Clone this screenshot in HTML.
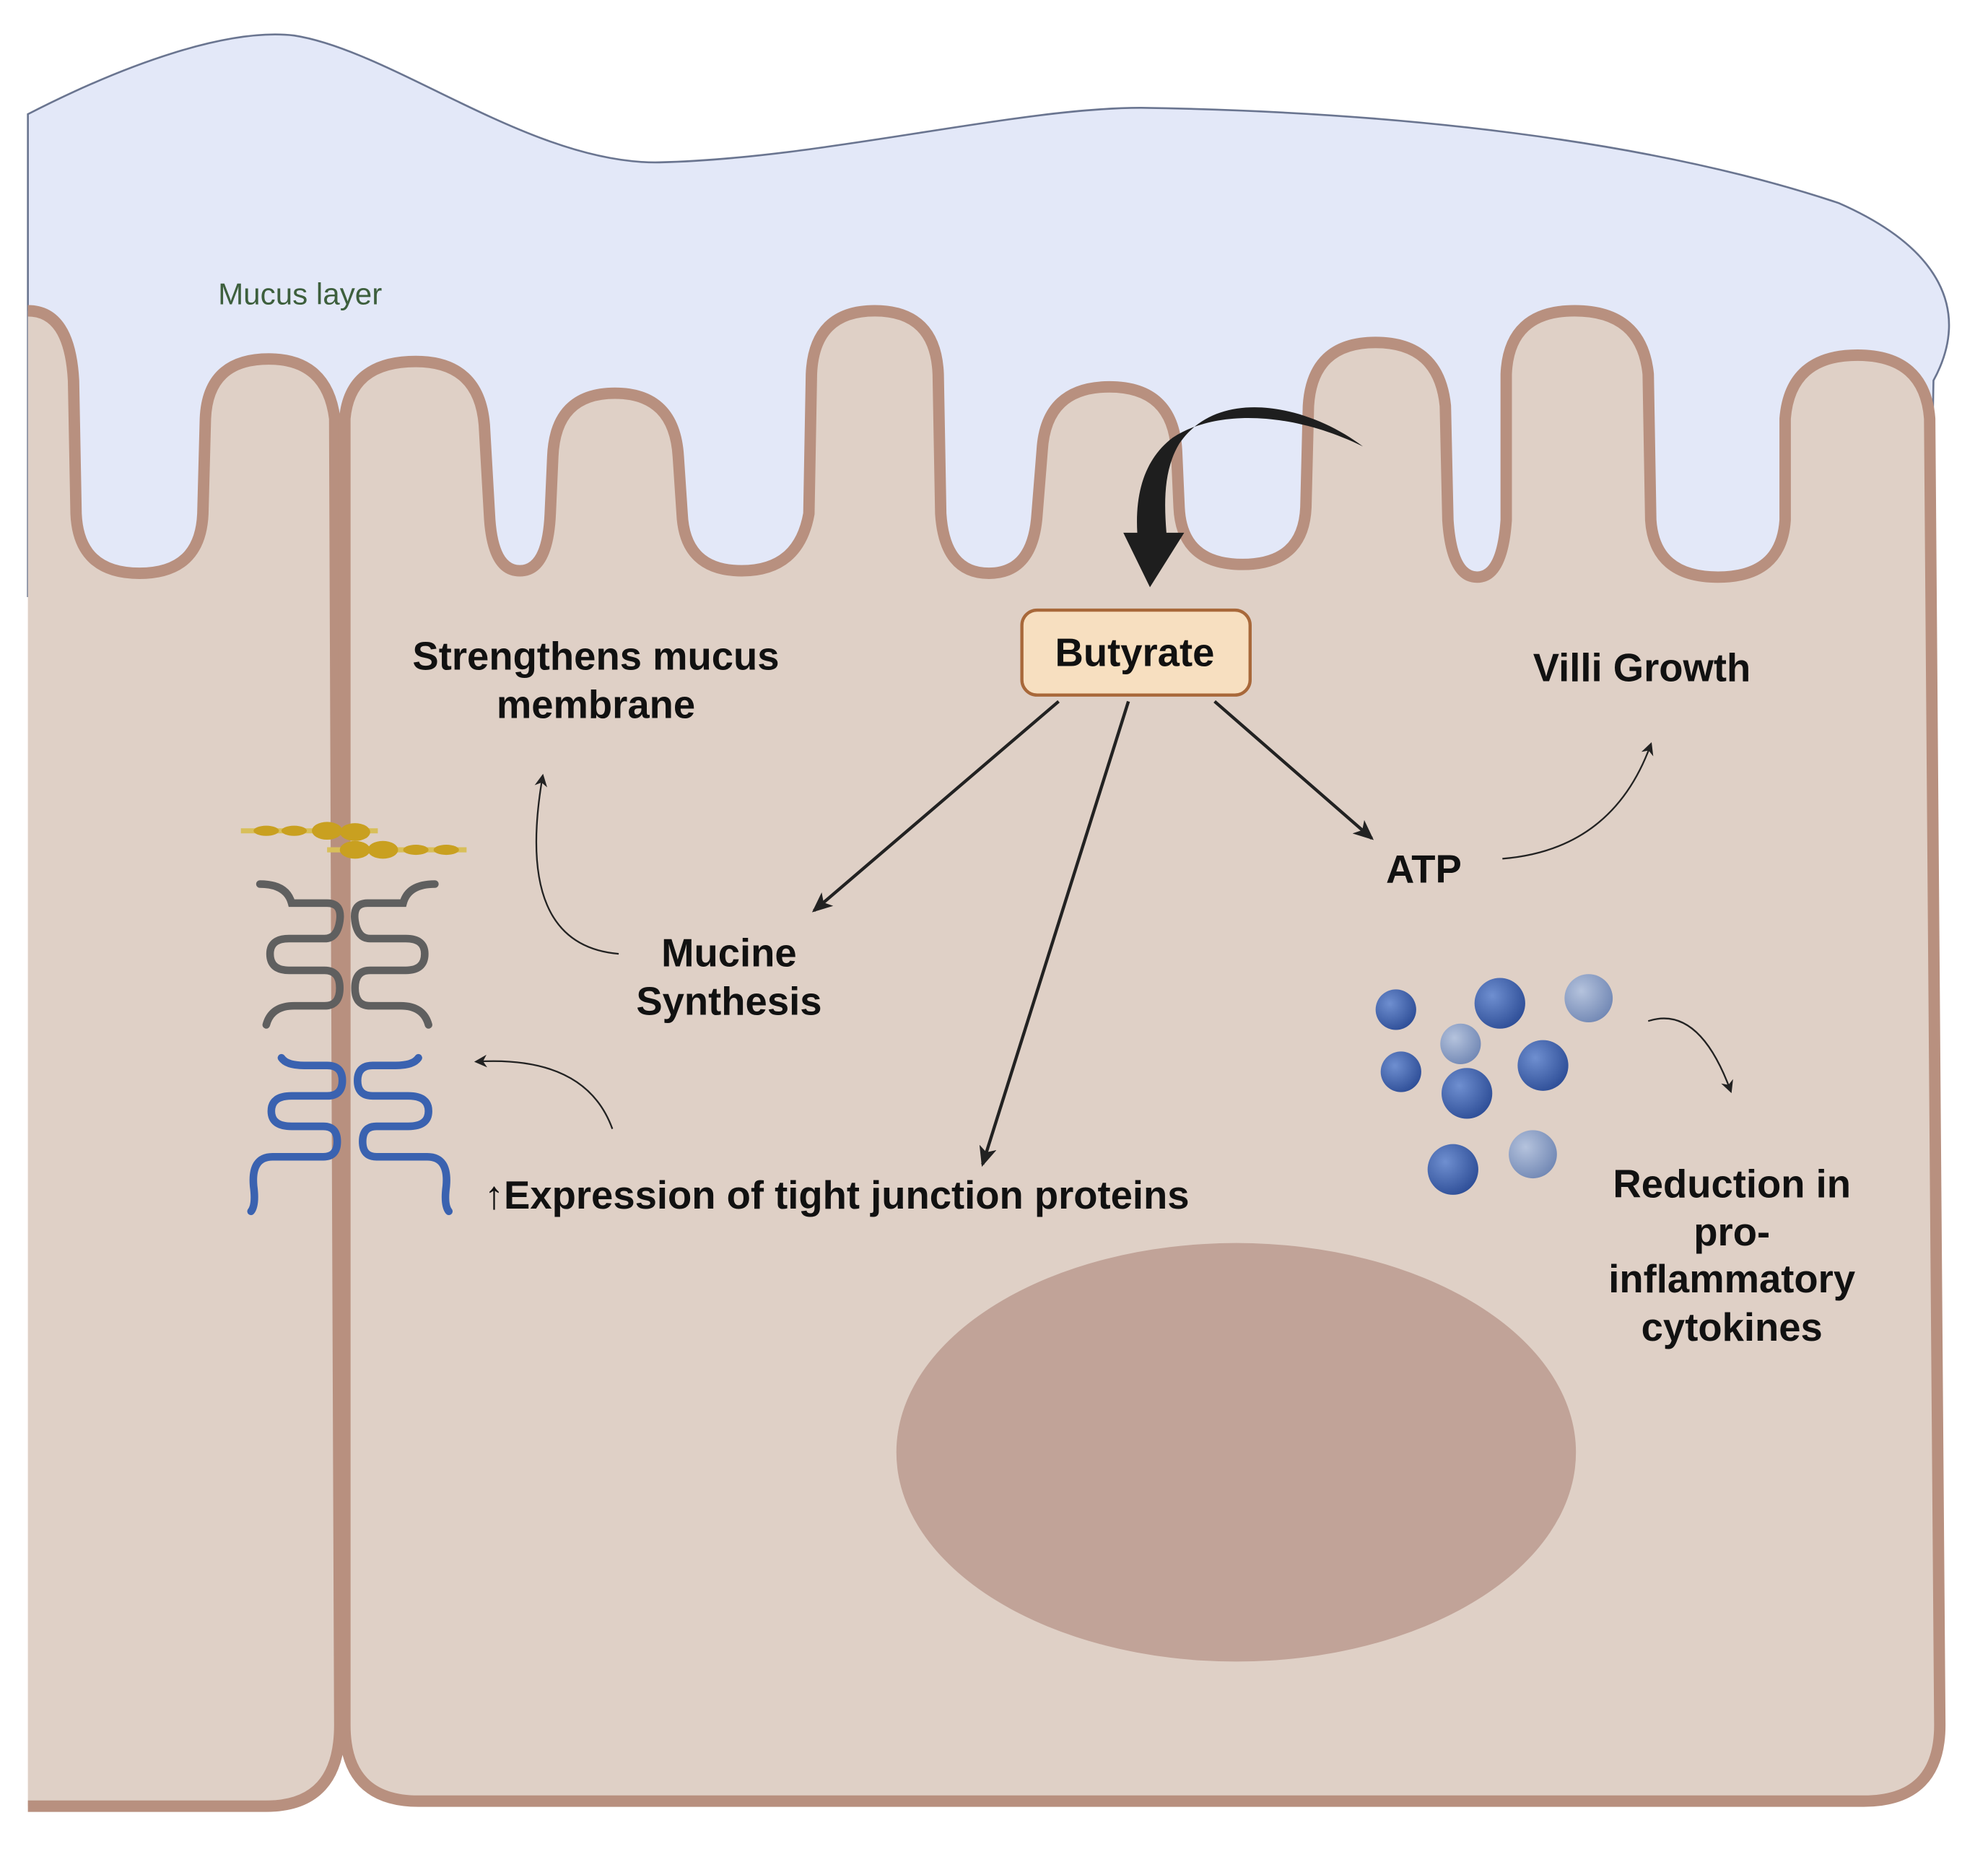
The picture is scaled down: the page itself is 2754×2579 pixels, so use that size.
<!DOCTYPE html>
<html><head><meta charset="utf-8"><style>
html,body{margin:0;padding:0;background:#fff;}
svg{display:block;}
text{font-family:"Liberation Sans",Arial,sans-serif;}
.b{font-weight:bold;font-size:31px;fill:#111;text-anchor:middle;}
</style></head><body>
<svg width="2754" height="2579" viewBox="0 0 1568 1468" preserveAspectRatio="none" xmlns="http://www.w3.org/2000/svg">
<defs>
<marker id="ah" markerWidth="10" markerHeight="10" refX="8" refY="5" orient="auto" markerUnits="userSpaceOnUse">
<path d="M0,0 L10,5 L0,10 L3,5 Z" fill="#222"/></marker>
<marker id="ah2" markerWidth="16" markerHeight="14" refX="14" refY="7" orient="auto" markerUnits="userSpaceOnUse">
<path d="M0,0 L16,7 L0,14 L4,7 Z" fill="#222"/></marker>
<radialGradient id="dk" cx="35%" cy="35%" r="70%"><stop offset="0" stop-color="#6f8fd0"/><stop offset="1" stop-color="#2f4f98"/></radialGradient>
<radialGradient id="lt" cx="35%" cy="35%" r="70%"><stop offset="0" stop-color="#b5c3dd"/><stop offset="1" stop-color="#7389b5"/></radialGradient>
</defs>
<rect width="1568" height="1468" fill="#fff"/>
<path d="M22,90 C100,50 180,22 232,28 C310,40 420,130 520,128 C650,125 800,85 900,85 C1100,88 1300,110 1450,160 C1530,195 1555,245 1525,300 L1522,470 L22,470 Z" fill="#e3e8f8" stroke="#6a7590" stroke-width="1.5"/>
<path d="M22,245 Q55,245 58,300 L60,405 Q62,452 110,452 Q158,452 160,405 L162,330 Q164,283 212,283 Q258,283 264,330 L268,1360 Q268,1424 210,1424 L22,1424" fill="#dfd0c6" stroke="#b8907f" stroke-width="9" stroke-linejoin="round"/>
<path d="M272,1360 L272,330 Q276,285 328,285 Q378,285 382,335 L386,405 Q388,450 410,450 Q432,450 434,405 L436,360 Q438,310 485,310 Q532,310 535,360 L538,405 Q540,450 585,450 Q630,450 638,405 L640,295 Q642,245 690,245 Q738,245 740,295 L742,405 Q745,452 780,452 Q815,452 818,405 L822,355 Q825,305 875,305 Q925,305 928,355 L930,400 Q932,445 980,445 Q1028,445 1030,400 L1032,320 Q1035,270 1085,270 Q1135,270 1140,320 L1142,410 Q1145,455 1165,455 Q1185,455 1188,410 L1188,295 Q1190,245 1242,245 Q1295,245 1300,295 L1302,410 Q1305,455 1355,455 Q1405,455 1408,410 L1408,330 Q1412,280 1465,280 Q1518,280 1522,330 L1530,1360 Q1530,1420 1470,1420 L330,1420 Q272,1420 272,1360 Z" fill="#dfd0c6" stroke="#b8907f" stroke-width="9" stroke-linejoin="round"/>
<ellipse cx="975" cy="1145" rx="268" ry="165" fill="#c1a398"/>
<path d="M1075,352 C1030,318 960,305 930,350 C918,370 918,395 920,420 L934,420 L907,463 L886,420 L897,420 C895,385 905,360 925,345 C960,322 1020,325 1075,352 Z" fill="#1e1e1e"/>
<text x="172" y="240" font-size="24" fill="#3d5f3d">Mucus layer</text>
<rect x="806" y="481" width="180" height="67" rx="12" fill="#f7dfc0" stroke="#a8683a" stroke-width="2.5"/>
<text class="b" x="895" y="525">Butyrate</text>
<text class="b" x="470" y="528">Strengthens mucus</text>
<text class="b" x="470" y="566">membrane</text>
<text class="b" x="1295" y="537">Villi Growth</text>
<text class="b" x="1123" y="696">ATP</text>
<text class="b" x="575" y="762">Mucine</text>
<text class="b" x="575" y="800">Synthesis</text>
<text class="b" x="660" y="953">↑Expression of tight junction proteins</text>
<text class="b" x="1366" y="944">Reduction in</text>
<text class="b" x="1366" y="982">pro-</text>
<text class="b" x="1366" y="1019">inflammatory</text>
<text class="b" x="1366" y="1057">cytokines</text>
<g fill="none" stroke="#222">
<line x1="835" y1="553" x2="642" y2="718" stroke-width="2.5" marker-end="url(#ah2)"/>
<line x1="890" y1="553" x2="775" y2="918" stroke-width="2.5" marker-end="url(#ah2)"/>
<line x1="958" y1="553" x2="1082" y2="661" stroke-width="2.5" marker-end="url(#ah2)"/>
<path d="M1185,677 Q1272,670 1302,587" stroke-width="1.3" marker-end="url(#ah)"/>
<path d="M488,752 Q405,745 428,612" stroke-width="1.3" marker-end="url(#ah)"/>
<path d="M483,890 Q462,832 376,837" stroke-width="1.3" marker-end="url(#ah)"/>
<path d="M1300,805 Q1340,792 1365,860" stroke-width="1.3" marker-end="url(#ah)"/>
</g>
<circle cx="1101" cy="796" r="16" fill="url(#dk)"/>
<circle cx="1183" cy="791" r="20" fill="url(#dk)"/>
<circle cx="1253" cy="787" r="19" fill="url(#lt)"/>
<circle cx="1152" cy="823" r="16" fill="url(#lt)"/>
<circle cx="1105" cy="845" r="16" fill="url(#dk)"/>
<circle cx="1217" cy="840" r="20" fill="url(#dk)"/>
<circle cx="1157" cy="862" r="20" fill="url(#dk)"/>
<circle cx="1146" cy="922" r="20" fill="url(#dk)"/>
<circle cx="1209" cy="910" r="19" fill="url(#lt)"/>
<g>
<line x1="190" y1="655" x2="298" y2="655" stroke="#d8bf5a" stroke-width="4"/>
<line x1="258" y1="670" x2="368" y2="670" stroke="#d8bf5a" stroke-width="4"/>
<g fill="#c9a020">
<ellipse cx="210" cy="655" rx="10" ry="4"/><ellipse cx="232" cy="655" rx="10" ry="4"/>
<ellipse cx="258" cy="655" rx="12" ry="7"/><ellipse cx="280" cy="656" rx="12" ry="7"/>
<ellipse cx="280" cy="670" rx="12" ry="7"/><ellipse cx="302" cy="670" rx="12" ry="7"/>
<ellipse cx="328" cy="670" rx="10" ry="4"/><ellipse cx="352" cy="670" rx="10" ry="4"/>
</g>
<g fill="none" stroke="#5f5f5f" stroke-width="6" stroke-linecap="round">
<path d="M205,697 Q226,697 230,712 L258,712 Q270,712 268,726 Q266,740 256,740 L228,740 Q213,740 213,752 Q213,765 228,765 L256,765 Q268,765 268,779 Q268,793 256,793 L232,793 Q214,793 210,808"/>
<path d="M205,697 Q226,697 230,712 L258,712 Q270,712 268,726 Q266,740 256,740 L228,740 Q213,740 213,752 Q213,765 228,765 L256,765 Q268,765 268,779 Q268,793 256,793 L232,793 Q214,793 210,808" transform="translate(548,0) scale(-1,1)"/>
</g>
<g fill="none" stroke="#3a62b0" stroke-width="6" stroke-linecap="round">
<path d="M222,834 Q226,840 240,840 L258,840 Q270,840 270,852 Q270,864 258,864 L230,864 Q214,864 214,876 Q214,888 230,888 L255,888 Q266,888 266,900 Q266,912 255,912 L215,912 Q198,912 200,935 Q202,950 198,955"/>
<path d="M222,834 Q226,840 240,840 L258,840 Q270,840 270,852 Q270,864 258,864 L230,864 Q214,864 214,876 Q214,888 230,888 L255,888 Q266,888 266,900 Q266,912 255,912 L215,912 Q198,912 200,935 Q202,950 198,955" transform="translate(552,0) scale(-1,1)"/>
</g>
</g>
</svg>
</body></html>
